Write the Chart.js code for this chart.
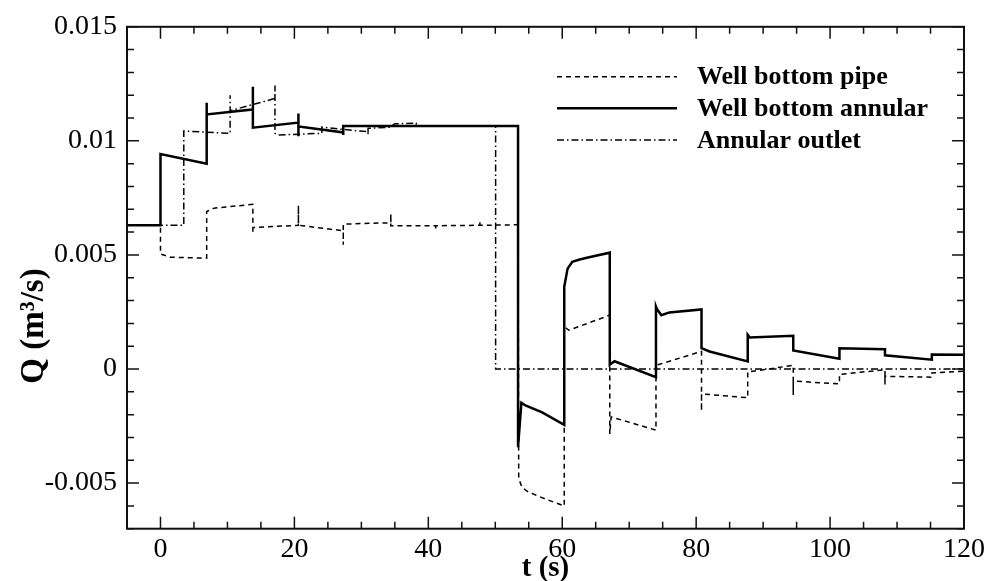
<!DOCTYPE html>
<html>
<head>
<meta charset="utf-8">
<script src="https://cdn.jsdelivr.net/npm/chart.js@4.4.1/dist/chart.umd.min.js"></script>
<style>
  body { margin: 0; background: #fff; }
  canvas { display: block; }
</style>
</head>
<body>
<canvas id="myChart" width="989" height="581"></canvas>
<script>
// Valeurs (t en s, Q en m3/s)
const pipeT = [-5, 0, 0, 1.5, 6.9, 6.9, 8, 13.8, 13.8, 13.8, 20.6, 20.6, 20.6, 27.3, 27.3, 27.3,
    32.8, 34.4, 34.4, 34.4, 41.1, 41.1, 41.1, 47.7, 47.7, 47.7, 53.4, 53.5, 54.0, 55, 57.5, 60.3,
    60.3, 61, 67.1, 67.1, 67.3, 74.0, 74.0, 80.8, 80.8, 80.8, 87.7, 87.7, 94.5, 94.5, 94.5,
    101.4, 101.4, 108.2, 108.2, 108.2, 115.2, 115.2, 120];
const pipeQ = [0.0063, 0.0063, 0.00504, 0.0049, 0.00486, 0.0069, 0.00705, 0.00722, 0.00596, 0.0062, 0.0063, 0.00717, 0.0063, 0.00606, 0.00545, 0.00635,
    0.0064, 0.0064, 0.0068, 0.00628, 0.00628, 0.00607, 0.00628, 0.0063, 0.0065, 0.0063, 0.00632, -0.0048, -0.0052, -0.0054, -0.0057, -0.006,
    0.00186, 0.0017, 0.00236, -0.00285, -0.0021, -0.00268, 0.00016, 0.00077, -0.00184, -0.00109, -0.00126, -0.00013, 0.00016, -0.00114, -0.00053,
    -0.00065, -0.00024, -0.00003, -0.00068, -0.00032, -0.00036, -0.00017, -0.0001];

const annularT = [-5, 0, 0, 6.9, 6.9, 6.9, 13.8, 13.8, 13.8, 20.6, 20.6, 20.6, 20.6, 27.3, 27.3, 27.3, 53.4,
    53.4, 53.9, 54.5, 57, 60.3, 60.3, 60.8, 61.5, 62.6, 64, 67.1, 67.1, 67.8, 74.0,
    74.0, 74.1, 74.8, 76, 80.8, 80.8, 82, 87.7, 87.7, 88, 94.5, 94.5, 101.4, 101.4, 108.2, 108.2, 115.2, 115.2, 120];
const annularQ = [0.0063, 0.0063, 0.00942, 0.0090, 0.01167, 0.01116, 0.01138, 0.01237, 0.01058, 0.0108, 0.0112, 0.0102, 0.01063, 0.01037, 0.01026, 0.01065, 0.01065,
    -0.00343, -0.00148, -0.0016, -0.0019, -0.00245, 0.0036, 0.0044, 0.0047, 0.0048, 0.0049, 0.0051, 0.00019, 0.00034, -0.00036,
    0.00273, 0.00265, 0.00236, 0.00248, 0.00261, 0.00091, 0.00077, 0.00033, 0.0015, 0.00138, 0.00146, 0.00081, 0.00045, 0.00091, 0.00087, 0.0006, 0.00041, 0.00063, 0.00062];

const outletT = [-5, 3.48, 3.48, 10.4, 10.4, 10.4, 17.1, 17.1, 17.1, 17.5, 24.1, 24.1, 27.3, 31.0, 31.0, 31.0,
    34.3, 35, 38.2, 38.2, 50.05, 50.05, 120];
const outletQ = [0.0063, 0.0063, 0.01043, 0.01033, 0.012, 0.01132, 0.01186, 0.01243, 0.01033, 0.01026, 0.01033, 0.0106, 0.0105, 0.0104, 0.01026, 0.01055,
    0.0106, 0.01075, 0.01077, 0.01065, 0.01065, 0, 0];

const seriesNames = ['Well bottom pipe', 'Well bottom annular', 'Annular outlet'];

const xTicks = [0, 20, 40, 60, 80, 100, 120];
const xTickLabels = ['0', '20', '40', '60', '80', '100', '120'];
const yTicks = [-0.005, 0, 0.005, 0.01, 0.015];
const yTickLabels = ['-0.005', '0', '0.005', '0.01', '0.015'];
const yTitle = 'Q (m³/s)';

const SERIF = '"Liberation Serif", "Times New Roman", serif';

function toPoints(t, q) {
    return t.map((x, i) => ({ x: x, y: q[i] }));
}

// Cadre, graduations rentrantes, titre Q et légende
const framePlugin = {
    id: 'frame',
    afterDatasetsDraw(chart) {
        const ctx = chart.ctx;
        const a = chart.chartArea;
        const xs = chart.scales.x, ys = chart.scales.y;
        ctx.save();
        ctx.strokeStyle = '#111';
        ctx.lineWidth = 1.5;
        ctx.setLineDash([]);
        // graduations x : majeures tous les 20, mineures tous les 5
        for (let v = -5; v <= 120; v += 5) {
            const px = xs.getPixelForValue(v);
            const len = (v % 20 === 0) ? 12 : 7;
            ctx.beginPath();
            ctx.moveTo(px, a.bottom); ctx.lineTo(px, a.bottom - len);
            ctx.moveTo(px, a.top); ctx.lineTo(px, a.top + len);
            ctx.stroke();
        }
        // graduations y : majeures tous les 0.005, mineures tous les 0.001
        for (let k = -7; k <= 15; k++) {
            const py = ys.getPixelForValue(k / 1000);
            const len = (k % 5 === 0) ? 12 : 7;
            ctx.beginPath();
            ctx.moveTo(a.left, py); ctx.lineTo(a.left + len, py);
            ctx.moveTo(a.right, py); ctx.lineTo(a.right - len, py);
            ctx.stroke();
        }
        ctx.lineWidth = 2;
        ctx.strokeRect(a.left, a.top, a.right - a.left, a.bottom - a.top);

        // titre de l'axe y
        ctx.fillStyle = '#000';
        ctx.font = 'bold 33px ' + SERIF;
        ctx.textAlign = 'center';
        ctx.textBaseline = 'middle';
        ctx.save();
        ctx.translate(34, 326);
        ctx.rotate(-Math.PI / 2);
        ctx.fillText(yTitle, 0, 0);
        ctx.restore();

        // légende
        const rows = [76.7, 108.3, 140];
        chart.data.datasets.forEach((ds, i) => {
            ctx.strokeStyle = '#000';
            ctx.lineWidth = ds.borderWidth;
            ctx.setLineDash(ds.borderDash || []);
            ctx.beginPath();
            ctx.moveTo(557, rows[i]);
            ctx.lineTo(677, rows[i]);
            ctx.stroke();
            ctx.setLineDash([]);
            ctx.fillStyle = '#000';
            ctx.font = 'bold 26px ' + SERIF;
            ctx.textBaseline = 'middle';
            ctx.textAlign = 'left';
            ctx.fillText(ds.label, 697, rows[i] + 1);
        });
        ctx.restore();
    }
};

const ctx = document.getElementById('myChart').getContext('2d');
const myChart = new Chart(ctx, {
    type: 'line',
    data: {
        datasets: [{
            label: seriesNames[0],
            data: toPoints(pipeT, pipeQ),
            borderColor: '#000',
            borderWidth: 1.5,
            borderDash: [5, 4]
        }, {
            label: seriesNames[1],
            data: toPoints(annularT, annularQ),
            borderColor: '#000',
            borderWidth: 2.5
        }, {
            label: seriesNames[2],
            data: toPoints(outletT, outletQ),
            borderColor: '#000',
            borderWidth: 1.5,
            borderDash: [7, 3, 1.5, 3]
        }]
    },
    options: {
        responsive: false,
        animation: false,
        devicePixelRatio: 1,
        elements: {
            point: { radius: 0 },
            line: { tension: 0, borderJoinStyle: 'miter', fill: false }
        },
        layout: { padding: { top: 23, right: 24, left: 0, bottom: 0 } },
        plugins: {
            legend: { display: false },
            tooltip: { enabled: false }
        },
        scales: {
            x: {
                type: 'linear',
                min: -5,
                max: 120,
                grid: { display: false, drawTicks: false },
                border: { display: false },
                afterBuildTicks: (s) => { s.ticks = xTicks.map(v => ({ value: v })); },
                afterFit: (s) => { s.height = 52.3; },
                ticks: {
                    autoSkip: false,
                    maxRotation: 0,
                    padding: 4,
                    color: '#000',
                    font: { family: SERIF, size: 28 },
                    callback: (v) => xTickLabels[xTicks.indexOf(v)]
                },
                title: {
                    display: true,
                    text: 't (s)',
                    color: '#000',
                    font: { family: SERIF, size: 29, weight: 'bold', lineHeight: 0.85 },
                    padding: 0
                }
            },
            y: {
                type: 'linear',
                min: -0.007,
                max: 0.015,
                grid: { display: false, drawTicks: false },
                border: { display: false },
                afterBuildTicks: (s) => { s.ticks = yTicks.map(v => ({ value: v })); },
                afterFit: (s) => { s.width = 127; },
                ticks: {
                    autoSkip: false,
                    padding: 10,
                    color: '#000',
                    font: { family: SERIF, size: 28 },
                    callback: (v) => yTickLabels[yTicks.indexOf(v)]
                }
            }
        }
    },
    plugins: [framePlugin]
});
</script>
</body>
</html>
